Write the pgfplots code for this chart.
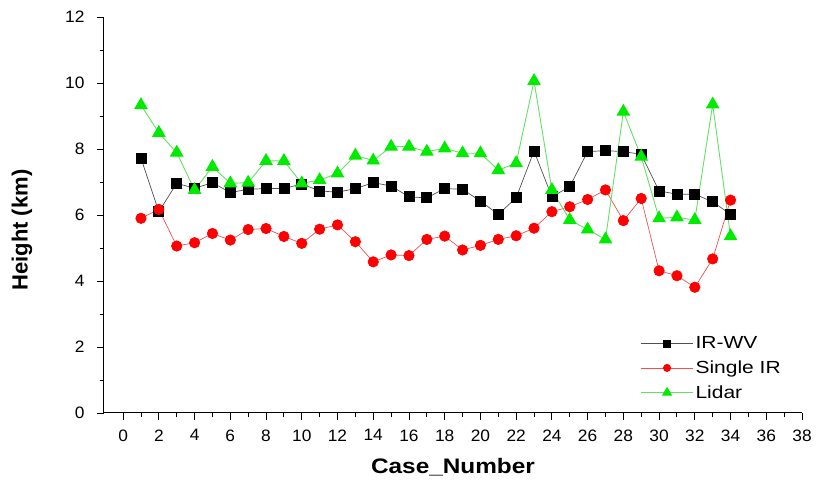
\documentclass[border=0pt]{standalone}
\usepackage{fontspec}
\setmainfont{Liberation Sans}
\newfontfamily\tickfont[FakeStretch=1.05]{Liberation Sans}
\newfontfamily\legfont[FakeStretch=1.2]{Liberation Sans}
\newfontfamily\xlabfont[FakeStretch=1.16]{Liberation Sans}
\usepackage{pgfplots}
\usepackage{pgfplotstable}
\pgfplotsset{compat=1.18}
\definecolor{mgreen}{RGB}{0,235,0}
\definecolor{lgreen}{RGB}{100,225,100}
\definecolor{lred}{RGB}{240,80,80}
\definecolor{dgray}{RGB}{80,80,80}

\pgfplotstableread{
x irwv single lidar
1 7.72 5.90 9.33
2 6.10 6.17 8.49
3 6.96 5.06 7.89
4 6.81 5.16 6.76
5 6.98 5.44 7.46
6 6.68 5.24 6.96
7 6.78 5.56 6.98
8 6.80 5.59 7.64
9 6.80 5.35 7.64
10 6.94 5.14 6.96
11 6.73 5.57 7.06
12 6.69 5.70 7.26
13 6.80 5.19 7.80
14 6.98 4.58 7.65
15 6.88 4.79 8.07
16 6.55 4.77 8.07
17 6.52 5.26 7.92
18 6.80 5.36 8.02
19 6.78 4.94 7.87
20 6.42 5.08 7.87
21 6.02 5.26 7.36
22 6.52 5.37 7.57
23 7.94 5.60 10.06
24 6.55 6.10 6.76
25 6.86 6.25 5.85
26 7.92 6.47 5.56
27 7.95 6.76 5.26
28 7.92 5.83 9.13
29 7.84 6.50 7.77
30 6.73 4.31 5.90
31 6.63 4.16 5.93
32 6.63 3.81 5.85
33 6.40 4.67 9.35
34 6.02 6.45 5.36
}\data

\begin{document}
\begin{tikzpicture}
\path[use as bounding box] (-104pt,-68pt) rectangle (712pt,413pt);
\begin{axis}[
  at={(0,0)}, anchor=south west,
  scale only axis, width=698pt, height=396pt,
  xmin=-1.07, xmax=38, ymin=0, ymax=12,
  axis lines=left,
  axis line style={-, line width=1pt},
  xtick={0,2,...,38}, ytick={0,2,...,12},
  minor x tick num=1, minor y tick num=1,
  tick align=outside,
  major tick length=7pt, minor tick length=4pt,
  every tick/.style={black, line width=0.9pt},
  ticklabel style={font=\tickfont\fontsize{16.5}{19}\selectfont},
  xticklabel style={yshift=-6pt},
  yticklabel style={xshift=-9pt},
  /pgf/number format/assume math mode=true,
  xlabel={\bfseries Case\_Number},
  ylabel={\bfseries Height (km)},
  every axis x label/.style={at={(axis description cs:0.5,-0.137)}, anchor=center, font=\xlabfont\fontsize{21}{25}\selectfont},
  every axis y label/.style={at={(axis description cs:-0.1175,0.462)}, anchor=center, rotate=90, font=\fontsize{22}{26}\selectfont},
  legend style={at={(axis description cs:0.7685,0.198)}, anchor=north west, draw=none, fill=none,
    font=\legfont\fontsize{17.5}{20}\selectfont, row sep=6.5pt, inner sep=0pt,
    nodes={inner sep=2pt},
    /tikz/every even column/.append style={column sep=4pt}},
  legend cell align=left,
  legend image code/.code={\draw[mark repeat=2,mark phase=2, every mark/.append style={scale=0.7}] plot coordinates {(0pt,0pt) (26pt,0pt) (52pt,0pt)};},
]
\addplot[dgray, line width=0.7pt, mark=square*, mark size=5pt, mark options={solid, fill=black, draw=black}] table[x=x,y=irwv] {\data};
\addlegendentry{IR-WV}
\addplot[lred, line width=0.7pt, mark=*, mark size=5.2pt, mark options={solid, fill=red, draw=red}] table[x=x,y=single] {\data};
\addlegendentry{Single IR}
\addplot[lgreen, line width=0.9pt, mark=triangle*, mark size=7pt, mark options={solid, fill=mgreen, draw=mgreen}] table[x=x,y=lidar] {\data};
\addlegendentry{Lidar}
\end{axis}
\end{tikzpicture}
\end{document}
